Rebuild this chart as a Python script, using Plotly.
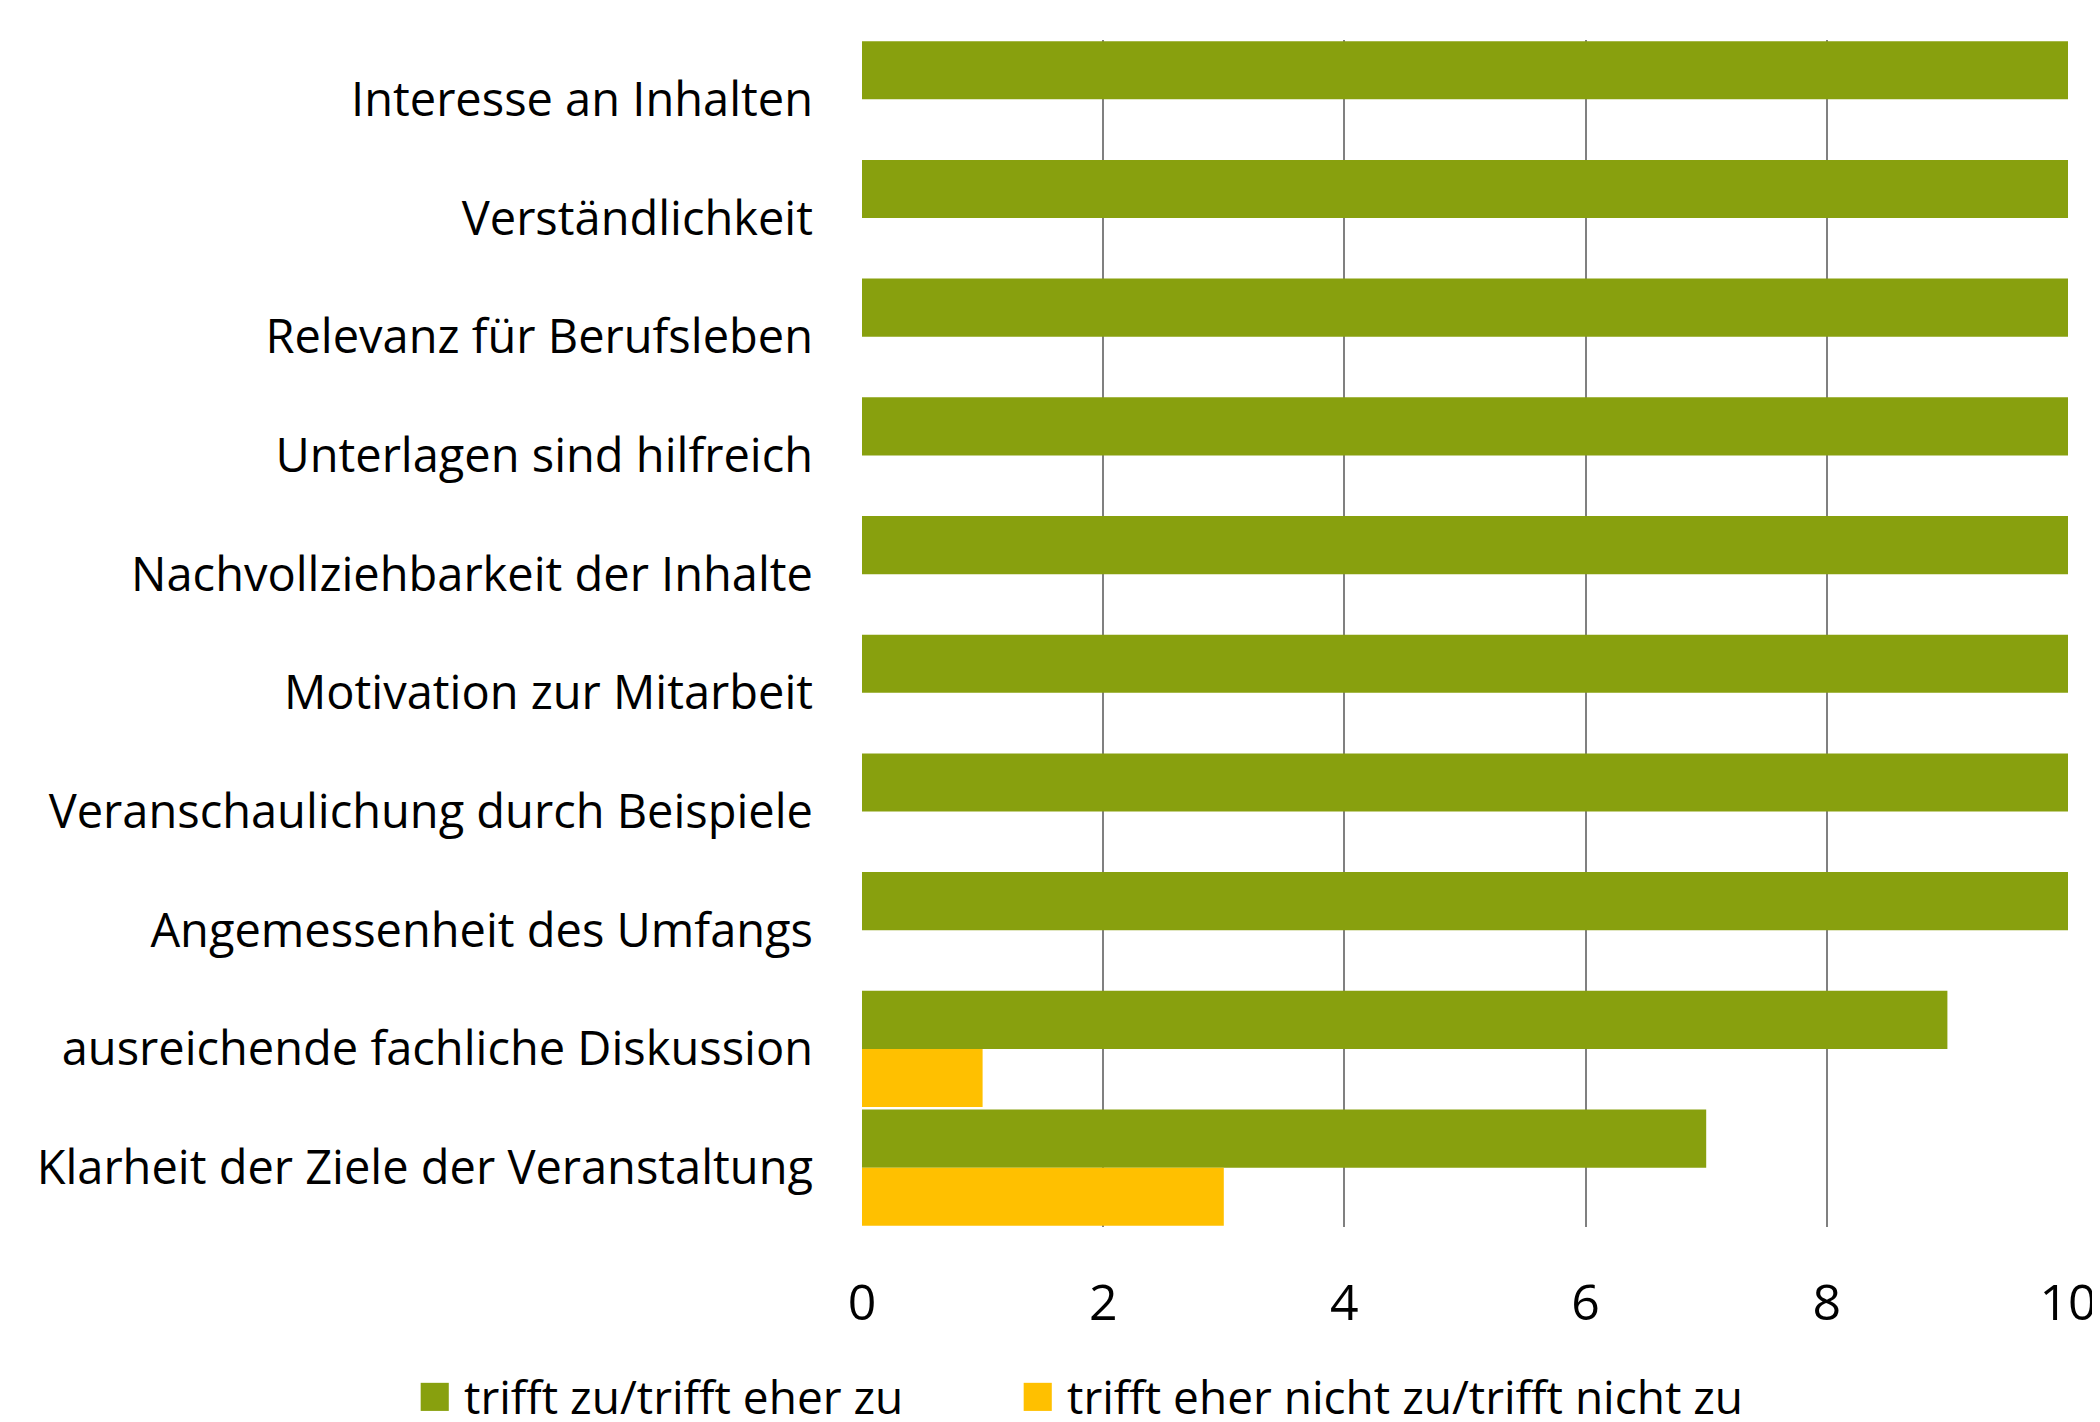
import plotly.graph_objects as go

categories = [
    "Interesse an Inhalten",
    "Verständlichkeit",
    "Relevanz für Berufsleben",
    "Unterlagen sind hilfreich",
    "Nachvollziehbarkeit der Inhalte",
    "Motivation zur Mitarbeit",
    "Veranschaulichung durch Beispiele",
    "Angemessenheit des Umfangs",
    "ausreichende fachliche Diskussion",
    "Klarheit der Ziele der Veranstaltung",
]
series_names = ["trifft zu/trifft eher zu", "trifft eher nicht zu/trifft nicht zu"]
agree = [10, 10, 10, 10, 10, 10, 10, 10, 9, 7]
disagree = [0, 0, 0, 0, 0, 0, 0, 0, 1, 3]
tick_vals = [0, 2, 4, 6, 8, 10]

GREEN = "#88A00E"
YELLOW = "#FFC000"
FONT = "Open Sans"
colors = [GREEN, YELLOW]

fig = go.Figure()
for name, vals, col in zip(series_names, [agree, disagree], colors):
    fig.add_trace(go.Bar(y=categories, x=vals, orientation="h", name=name,
                         marker=dict(color=col, line=dict(width=0)), showlegend=False))

# legend drawn as text annotations (larger colour squares like the original)
legend_x = [-0.3706, 0.1294]
for name, col, lx in zip(series_names, colors, legend_x):
    fig.add_annotation(xref="paper", yref="paper", x=lx, y=-0.139, xanchor="left",
                       yanchor="middle", showarrow=False,
                       text=f'<span style="color:{col};font-size:58px">■</span> {name}',
                       font=dict(family=FONT, size=46, color="#000000"))

fig.update_layout(
    width=2100, height=1422,
    margin=dict(l=854, r=40, t=32, b=203),
    paper_bgcolor="white", plot_bgcolor="white",
    barmode="group", bargap=0.02, bargroupgap=0,
    font=dict(family=FONT, size=46, color="#000000"),
    showlegend=False,
)
fig.update_xaxes(range=[0, 10], tickvals=tick_vals, showgrid=True, gridcolor="#808080",
                 gridwidth=1.5, zeroline=False, showline=False, ticks="",
                 automargin=False, ticklabelstandoff=42,
                 tickfont=dict(size=50, family=FONT))
fig.update_yaxes(autorange="reversed", showgrid=False, showline=False, ticks="",
                 automargin=False, ticklabelstandoff=48,
                 tickfont=dict(size=47, family=FONT))

fig.write_html("out.html")
